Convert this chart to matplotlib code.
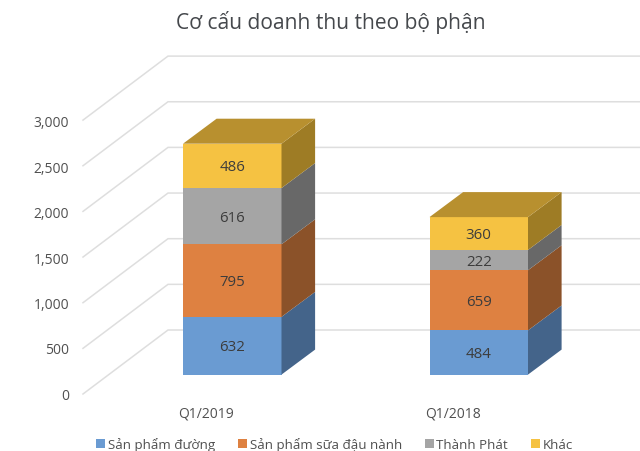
import matplotlib
matplotlib.use('Agg')
import matplotlib.pyplot as plt
from matplotlib.patches import Polygon, Patch

plt.rcParams['font.family'] = ['Open Sans', 'DejaVu Sans']

categories = ['Q1/2019', 'Q1/2018']
series_names = ['Sản phẩm đường', 'Sản phẩm sữa đậu nành', 'Thành Phát', 'Khác']
duong = [632, 484]
sua = [795, 659]
thanh_phat = [616, 222]
khac = [486, 360]
y_ticks = [0, 500, 1000, 1500, 2000, 2500, 3000]

front_colors = ['#6A9BD2', '#DE8141', '#A5A5A5', '#F5C242']
side_colors = ['#44648A', '#8B5229', '#686868', '#9E7C25']
top_color = '#B8902F'
text_color = '#505050'
label_color = '#3C3C3C'

PX = 0.0913  # pixels per unit of value
BASE = 375.6
DEPTH_X = 33.6
DEPTH_Y = 25.0 / PX
BAR_LEFT = [183.0, 429.5]
BAR_W = 98.5

fig = plt.figure(figsize=(6.4, 4.52), dpi=100)
ax = fig.add_axes([0, 0, 1, 1])
ax.set_xlim(0, 640)
ax.set_ylim((BASE - 452) / PX, BASE / PX)
ax.axis('off')

# floor/wall gridlines, slanted part then the back wall
wall_back = (BASE - 331) / PX
wall_front = (BASE - 395) / PX
for t in y_ticks:
    ax.plot([83, 168, 640], [t + wall_front, t + wall_back, t + wall_back],
            color='#DEDEDE', lw=1.1, zorder=1, solid_joinstyle='miter')
    ax.text(69, t * 0.995 + wall_front - 15, f'{t:,}', ha='right', va='center',
            fontsize=10, color=text_color)

for i, cat in enumerate(categories):
    x0 = BAR_LEFT[i]
    x1 = x0 + BAR_W
    bottom = 0
    for values, fc, sc in zip([duong, sua, thanh_phat, khac], front_colors, side_colors):
        v = values[i]
        ax.bar(x0, v, width=BAR_W, bottom=bottom, align='edge', color=fc, zorder=3)
        ax.add_patch(Polygon([(x1, bottom), (x1 + DEPTH_X, bottom + DEPTH_Y),
                              (x1 + DEPTH_X, bottom + v + DEPTH_Y), (x1, bottom + v)],
                             closed=True, facecolor=sc, edgecolor='none', zorder=3))
        ax.text((x0 + x1) / 2, bottom + v / 2 - 10, str(v), ha='center', va='center',
                fontsize=10.8, color=label_color, zorder=4)
        bottom += v
    ax.add_patch(Polygon([(x0, bottom), (x1, bottom), (x1 + DEPTH_X, bottom + DEPTH_Y),
                          (x0 + DEPTH_X, bottom + DEPTH_Y)],
                         closed=True, facecolor=top_color, edgecolor='none', zorder=3))
    ax.text((x0 + x1) / 2 - 26, (BASE - 414.5) / PX, cat, ha='center', va='center',
            fontsize=10, color=text_color)

fig.text(331 / 640, 1 - 22.5 / 452, 'Cơ cấu doanh thu theo bộ phận', ha='center', va='center',
         fontsize=15.1, color='#45484C')

handles = [Patch(facecolor=c, edgecolor='none') for c in front_colors]
fig.legend(handles, series_names, ncol=4, frameon=False, loc='center',
           bbox_to_anchor=(334.5 / 640, 1 - 445 / 452), fontsize=9.6,
           labelcolor=text_color, handlelength=0.68, handleheight=0.68,
           handletextpad=0.2, columnspacing=1.72, borderpad=0, labelspacing=0,
           borderaxespad=0)

fig.savefig('out.png', dpi=100, facecolor='white')
